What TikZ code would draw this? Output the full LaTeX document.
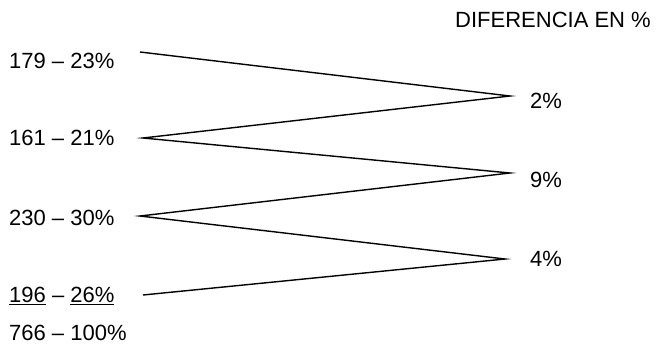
\documentclass[tikz,border=0pt]{standalone}
\usepackage{fontspec}
\setmainfont{Liberation Sans}
\begin{document}
\begin{tikzpicture}[x=1pt,y=-1pt,
  lbl/.style={anchor=west,inner sep=0pt,font=\fontsize{22}{26}\selectfont},
  zig/.style={line width=1.4pt,line join=miter}]
\useasboundingbox (0,0) rectangle (662,346);
\node[lbl] (t) at (455,20) {DIFERENCIA EN \%};
\node[lbl] (a) at (9,61) {179 -- 23\%};
\node[lbl] (b) at (9,138) {161 -- 21\%};
\node[lbl] (c) at (9,218) {230 -- 30\%};
\node[lbl] (d) at (9,296) {\underline{196} -- \underline{26\%}};
\node[lbl,anchor=base west] (e) at (9,340) {766 -- 100\%};
\node[lbl] (p1) at (530,101) {2\%};
\node[lbl] (p2) at (530,180) {9\%};
\node[lbl] (p3) at (530,259) {4\%};
\coordinate (l1) at (140,52);
\coordinate (l2) at (143,138);
\coordinate (l3) at (140,216);
\coordinate (l4) at (143,295);
\coordinate (r1) at (510,96);
\coordinate (r2) at (510,173);
\coordinate (r3) at (505,259);
\draw[zig] (l1) -- (r1) -- (l2) -- (r2) -- (l3) -- (r3) -- (l4);
\end{tikzpicture}
\end{document}
